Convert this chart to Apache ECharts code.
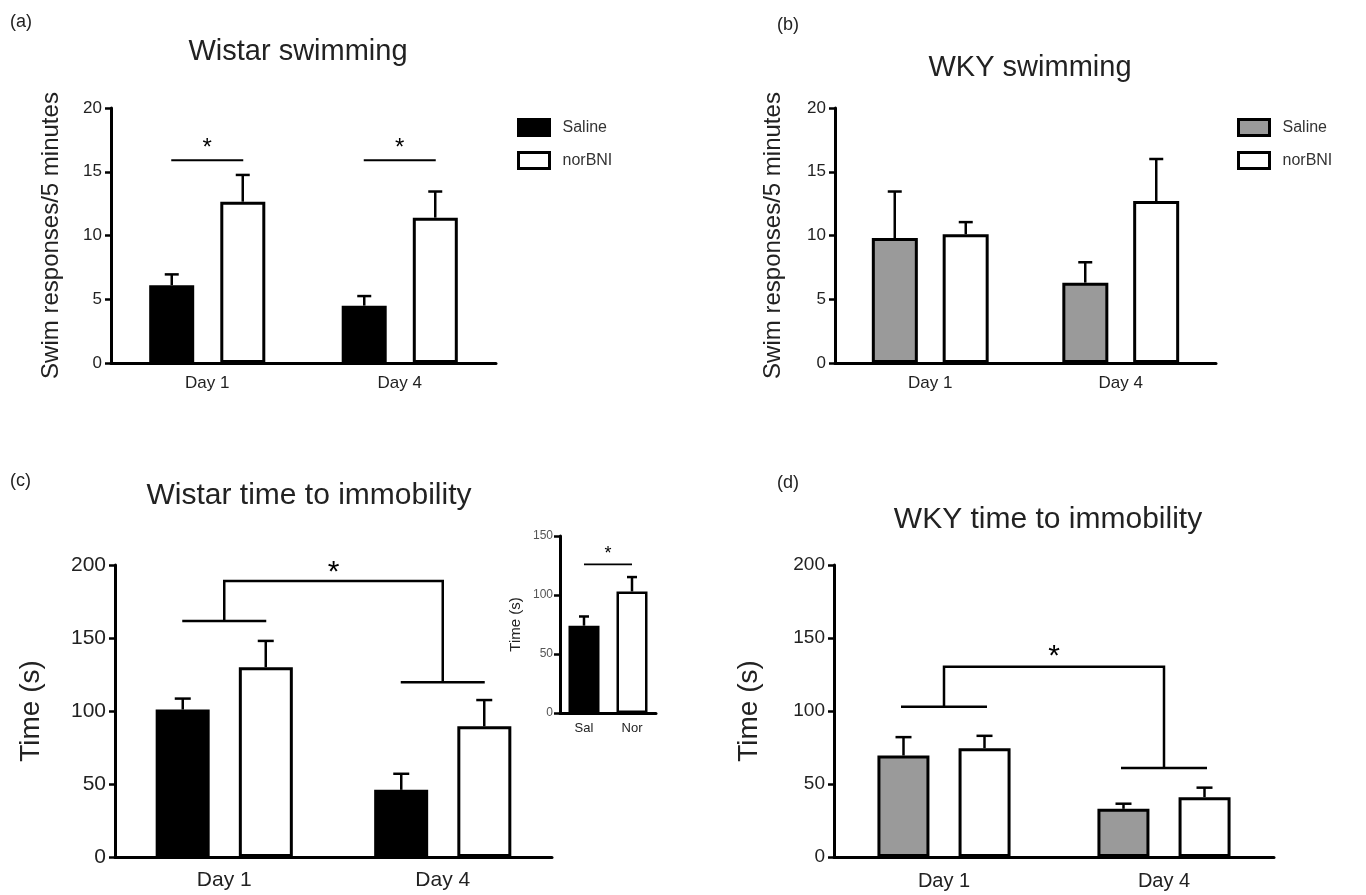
<!DOCTYPE html>
<html>
<head>
<meta charset="utf-8">
<script src="https://cdn.jsdelivr.net/npm/echarts@6/dist/echarts.min.js"></script>
<style>
html,body{margin:0;padding:0;background:#fff;}
#chart{width:1366px;height:895px;}
</style>
</head>
<body>
<div id="chart"></div>
<script>
// ---------- data ----------
const categories = ['Day 1', 'Day 4'];
const insetCategories = ['Sal', 'Nor'];
const seriesNames = ['Saline', 'norBNI'];

// (a) Wistar swimming (swim responses / 5 min)
const wistarSwimSaline = [6.1, 4.5];
const wistarSwimSalineSem = [0.85, 0.75];
const wistarSwimNor = [12.65, 11.4];
const wistarSwimNorSem = [2.1, 2.05];
const wistarSwimSigLevel = [15.9, 15.9];
const wistarSwimStarLevel = [16.8, 16.8];

// (b) WKY swimming
const wkySwimSaline = [9.8, 6.3];
const wkySwimSalineSem = [3.65, 1.6];
const wkySwimNor = [10.1, 12.7];
const wkySwimNorSem = [0.95, 3.3];

// (c) Wistar time to immobility (s)
const wistarTimeSaline = [101, 46];
const wistarTimeSalineSem = [7.5, 11];
const wistarTimeNor = [130, 89.5];
const wistarTimeNorSem = [18, 18];
const wistarTimeGroupLevel = [161.7, 119.7];
const wistarTimeBracketTop = 189;
const wistarTimeStar = 195;

// (c) inset: pooled days
const insetTime = [74, 103];
const insetTimeSem = [7.8, 12.2];
const insetSigLevel = 126;
const insetStar = 135;

// (d) WKY time to immobility (s)
const wkyTimeSaline = [69.5, 33];
const wkyTimeSalineSem = [12.6, 3.5];
const wkyTimeNor = [74.5, 41];
const wkyTimeNorSem = [8.5, 6.5];
const wkyTimeGroupLevel = [102.9, 61];
const wkyTimeBracketTop = 130.3;
const wkyTimeStar = 137;

// axis ranges
const swimAxis = {max: 20, step: 5};
const timeAxis = {max: 200, step: 50};
const insetAxis = {max: 150, step: 50};

// ---------- styles ----------
const FONT = 'Liberation Sans, Arial, sans-serif';
const BLACK = '#000000';
const GRAY = '#9a9a9a';
const WHITE = '#ffffff';
const TXT = '#222222';

const chart = echarts.init(document.getElementById('chart'), null, {renderer: 'canvas'});

function xAxisCfg(grid, cats, fontSize, margin) {
  return {
    type: 'category', gridIndex: grid, data: cats,
    axisLine: {lineStyle: {color: BLACK, width: 3}},
    axisTick: {alignWithLabel: true, length: 8, lineStyle: {color: BLACK, width: 2.5}},
    axisLabel: {color: TXT, fontSize: fontSize, fontFamily: FONT, margin: margin},
    splitLine: {show: false}
  };
}
function yAxisCfg(grid, rng, fontSize, name, nameSize, nameGap, labelColor, labelMargin) {
  return {
    type: 'value', gridIndex: grid, min: 0, max: rng.max, interval: rng.step,
    name: name, nameLocation: 'middle', nameGap: nameGap, nameRotate: 90,
    nameTextStyle: {color: TXT, fontSize: nameSize, fontFamily: FONT},
    axisLine: {show: true, lineStyle: {color: BLACK, width: 3}},
    axisTick: {show: true, length: 6, lineStyle: {color: BLACK, width: 2.5}},
    axisLabel: {color: labelColor || TXT, fontSize: fontSize, fontFamily: FONT, margin: labelMargin || 9},
    splitLine: {show: false}
  };
}
function barSeries(name, values, grid, color, barWidth, barGap) {
  return {
    type: 'bar', name: name, xAxisIndex: grid, yAxisIndex: grid, data: values,
    barWidth: barWidth, barGap: barGap, silent: true, z: 2,
    itemStyle: {color: color, borderColor: BLACK, borderWidth: 3}
  };
}
function errSeries(grid, means, sems, offset, capHalf) {
  return {
    type: 'custom', xAxisIndex: grid, yAxisIndex: grid, silent: true, z: 4,
    data: means.map((m, i) => [i, m, m + sems[i]]),
    renderItem: function (params, api) {
      const p0 = api.coord([api.value(0), api.value(1)]);
      const p1 = api.coord([api.value(0), api.value(2)]);
      const x = p0[0] + offset;
      const st = {stroke: BLACK, lineWidth: 2.5};
      return {type: 'group', children: [
        {type: 'line', shape: {x1: x, y1: p0[1], x2: x, y2: p1[1]}, style: st},
        {type: 'line', shape: {x1: x - capHalf, y1: p1[1], x2: x + capHalf, y2: p1[1]}, style: st}
      ]};
    }
  };
}
function pairSigSeries(grid, levels, stars, halfSpan, starSize) {
  return {
    type: 'custom', xAxisIndex: grid, yAxisIndex: grid, silent: true, z: 4,
    data: levels.map((l, i) => [i, l, stars[i]]),
    renderItem: function (params, api) {
      const c = api.coord([api.value(0), api.value(1)]);
      const s = api.coord([api.value(0), api.value(2)]);
      return {type: 'group', children: [
        {type: 'line', shape: {x1: c[0] - halfSpan, y1: c[1], x2: c[0] + halfSpan, y2: c[1]},
          style: {stroke: BLACK, lineWidth: 2}},
        {type: 'text', x: c[0], y: s[1],
          style: {text: '*', fontSize: starSize, fontFamily: FONT, fill: BLACK, align: 'center', verticalAlign: 'middle'}}
      ]};
    }
  };
}
function bracketSeries(grid, groupLevels, top, star, halfSpan, starSize) {
  return {
    type: 'custom', xAxisIndex: grid, yAxisIndex: grid, silent: true, z: 4,
    data: [[0, groupLevels[0], groupLevels[1], top, star]],
    renderItem: function (params, api) {
      const p0 = api.coord([0, api.value(1)]);
      const p1 = api.coord([1, api.value(2)]);
      const t = api.coord([0, api.value(3)]);
      const s = api.coord([0, api.value(4)]);
      const st = {stroke: BLACK, lineWidth: 2.5, fill: null};
      return {type: 'group', children: [
        {type: 'line', shape: {x1: p0[0] - halfSpan, y1: p0[1], x2: p0[0] + halfSpan, y2: p0[1]}, style: st},
        {type: 'line', shape: {x1: p1[0] - halfSpan, y1: p1[1], x2: p1[0] + halfSpan, y2: p1[1]}, style: st},
        {type: 'polyline', shape: {points: [[p0[0], p0[1]], [p0[0], t[1]], [p1[0], t[1]], [p1[0], p1[1]]]}, style: st},
        {type: 'text', x: (p0[0] + p1[0]) / 2, y: s[1],
          style: {text: '*', fontSize: starSize, fontFamily: FONT, fill: BLACK, align: 'center', verticalAlign: 'middle'}}
      ]};
    }
  };
}
function insetSigSeries(grid, level, star, starSize) {
  return {
    type: 'custom', xAxisIndex: grid, yAxisIndex: grid, silent: true, z: 4,
    data: [[0, level, star]],
    renderItem: function (params, api) {
      const a = api.coord([0, api.value(1)]);
      const b = api.coord([1, api.value(1)]);
      const s = api.coord([0, api.value(2)]);
      return {type: 'group', children: [
        {type: 'line', shape: {x1: a[0], y1: a[1], x2: b[0], y2: b[1]}, style: {stroke: BLACK, lineWidth: 1.8}},
        {type: 'text', x: (a[0] + b[0]) / 2, y: s[1],
          style: {text: '*', fontSize: starSize, fontFamily: FONT, fill: BLACK, align: 'center', verticalAlign: 'middle'}}
      ]};
    }
  };
}
function label(text, x, y, size, align) {
  return {type: 'text', x: x, y: y, silent: true,
    style: {text: text, fontSize: size, fontFamily: FONT, fill: TXT, align: align || 'center', verticalAlign: 'middle'}};
}

const insetColors = [BLACK, WHITE];

const option = {
  animation: false,
  backgroundColor: '#ffffff',
  grid: [
    {left: 111, top: 108, width: 385, height: 255},
    {left: 835, top: 108, width: 381, height: 255},
    {left: 115, top: 565, width: 437, height: 292},
    {left: 834, top: 565, width: 440, height: 292},
    {left: 560, top: 536, width: 96, height: 177}
  ],
  xAxis: [
    xAxisCfg(0, categories, 17, 12),
    xAxisCfg(1, categories, 17, 12),
    xAxisCfg(2, categories, 21, 13),
    xAxisCfg(3, categories, 20, 14),
    xAxisCfg(4, insetCategories, 13, 9)
  ],
  yAxis: [
    yAxisCfg(0, swimAxis, 17, 'Swim responses/5 minutes', 24, 48),
    yAxisCfg(1, swimAxis, 17, 'Swim responses/5 minutes', 24, 50),
    yAxisCfg(2, timeAxis, 21, 'Time (s)', 28, 70),
    yAxisCfg(3, timeAxis, 19, 'Time (s)', 28, 71),
    yAxisCfg(4, insetAxis, 12, 'Time (s)', 15, 37, '#555', 7)
  ],
  legend: [
    {orient: 'vertical', left: 517, top: 118, padding: 0, itemWidth: 31, itemHeight: 16, itemGap: 14,
      selectedMode: false, icon: 'rect',
      textStyle: {fontSize: 16, fontFamily: FONT, color: '#333', padding: [0, 0, 0, 8]},
      data: [
        {name: seriesNames[0], itemStyle: {color: BLACK, borderColor: BLACK, borderWidth: 3}},
        {name: seriesNames[1], itemStyle: {color: WHITE, borderColor: BLACK, borderWidth: 3}}
      ]},
    {orient: 'vertical', left: 1237, top: 118, padding: 0, itemWidth: 31, itemHeight: 16, itemGap: 14,
      selectedMode: false, icon: 'rect',
      textStyle: {fontSize: 16, fontFamily: FONT, color: '#333', padding: [0, 0, 0, 8]},
      data: [
        {name: seriesNames[0], itemStyle: {color: GRAY, borderColor: BLACK, borderWidth: 3}},
        {name: seriesNames[1], itemStyle: {color: WHITE, borderColor: BLACK, borderWidth: 3}}
      ]}
  ],
  graphic: [
    label('(a)', 10, 22, 18, 'left'),
    label('(b)', 777, 25, 18, 'left'),
    label('(c)', 10, 481, 18, 'left'),
    label('(d)', 777, 483, 18, 'left'),
    label('Wistar swimming', 298, 52, 29),
    label('WKY swimming', 1030, 68, 29),
    label('Wistar time to immobility', 309, 496, 30),
    label('WKY time to immobility', 1048, 520, 30)
  ],
  series: [
    // (a)
    barSeries(seriesNames[0], wistarSwimSaline, 0, BLACK, 45, '58%'),
    barSeries(seriesNames[1], wistarSwimNor, 0, WHITE, 45, '58%'),
    errSeries(0, wistarSwimSaline, wistarSwimSalineSem, -35.5, 7),
    errSeries(0, wistarSwimNor, wistarSwimNorSem, 35.5, 7),
    pairSigSeries(0, wistarSwimSigLevel, wistarSwimStarLevel, 36, 24),
    // (b)
    barSeries(seriesNames[0], wkySwimSaline, 1, GRAY, 46, '54%'),
    barSeries(seriesNames[1], wkySwimNor, 1, WHITE, 46, '54%'),
    errSeries(1, wkySwimSaline, wkySwimSalineSem, -35.5, 7),
    errSeries(1, wkySwimNor, wkySwimNorSem, 35.5, 7),
    // (c)
    barSeries(seriesNames[0], wistarTimeSaline, 2, BLACK, 54, '54%'),
    barSeries(seriesNames[1], wistarTimeNor, 2, WHITE, 54, '54%'),
    errSeries(2, wistarTimeSaline, wistarTimeSalineSem, -41.5, 8),
    errSeries(2, wistarTimeNor, wistarTimeNorSem, 41.5, 8),
    bracketSeries(2, wistarTimeGroupLevel, wistarTimeBracketTop, wistarTimeStar, 42, 30),
    // (d)
    barSeries(seriesNames[0], wkyTimeSaline, 3, GRAY, 52, '56%'),
    barSeries(seriesNames[1], wkyTimeNor, 3, WHITE, 52, '56%'),
    errSeries(3, wkyTimeSaline, wkyTimeSalineSem, -40.5, 8),
    errSeries(3, wkyTimeNor, wkyTimeNorSem, 40.5, 8),
    bracketSeries(3, wkyTimeGroupLevel, wkyTimeBracketTop, wkyTimeStar, 43, 30),
    // (c) inset
    {
      type: 'bar', xAxisIndex: 4, yAxisIndex: 4, silent: true, z: 2, barWidth: 31,
      data: insetTime.map((v, i) => ({value: v, itemStyle: {color: insetColors[i]}})),
      itemStyle: {borderColor: BLACK, borderWidth: 2.5}
    },
    errSeries(4, insetTime, insetTimeSem, 0, 5),
    insetSigSeries(4, insetSigLevel, insetStar, 18)
  ]
};
chart.setOption(option);
</script>
</body>
</html>
